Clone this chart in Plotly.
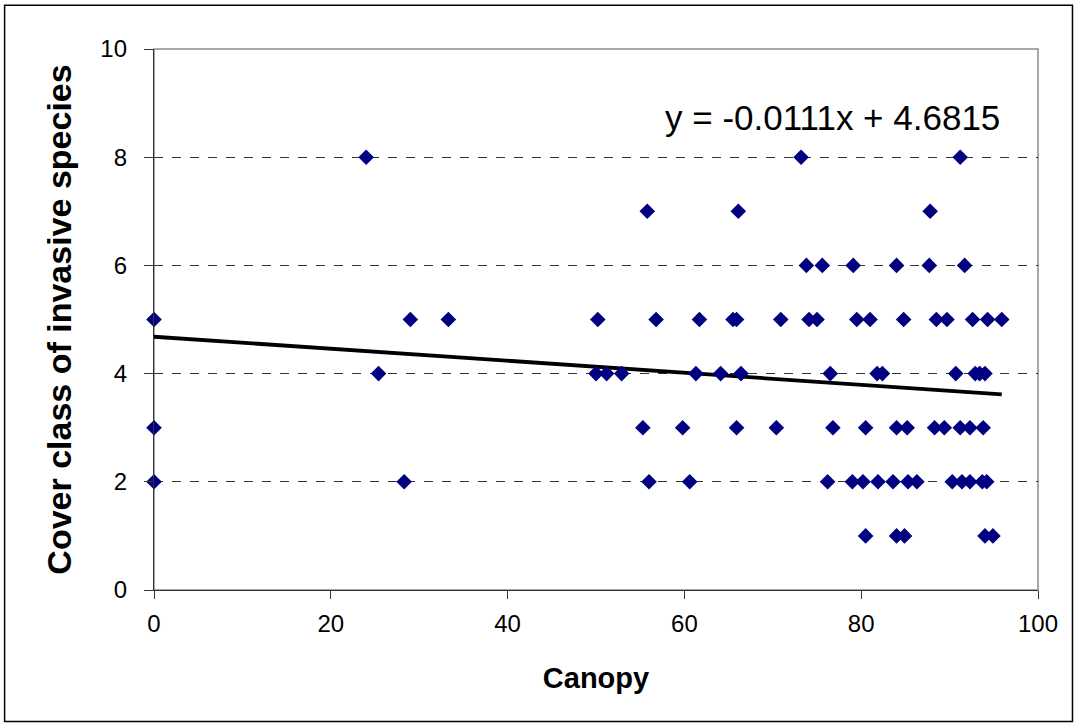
import plotly.graph_objects as go

# Data
canopy_y8 = [24.0, 73.2, 91.2]
canopy_y7 = [55.8, 66.1, 87.8]
canopy_y6 = [73.8, 75.6, 79.1, 84.0, 87.7, 91.7]
canopy_y5 = [0.0, 29.0, 33.3, 50.2, 56.8, 61.7, 65.5, 65.9, 70.9, 74.1, 75.0,
             79.5, 81.0, 84.8, 88.5, 89.7, 92.6, 94.3, 95.9]
canopy_y4 = [25.4, 50.0, 51.2, 52.9, 61.3, 64.1, 66.4, 76.5, 81.8, 82.4, 90.7,
             92.9, 93.4, 94.0]
canopy_y3 = [0.0, 55.3, 59.8, 65.9, 70.4, 76.8, 80.5, 84.0, 85.2, 88.3, 89.4,
             91.2, 92.3, 93.8]
canopy_y2 = [0.0, 28.3, 56.0, 60.6, 76.2, 79.0, 80.2, 81.9, 83.6, 85.3, 86.3,
             90.3, 91.4, 92.3, 93.7, 94.2]
canopy_y1 = [80.5, 84.0, 84.9, 94.0, 94.9]

groups = [(8, canopy_y8), (7, canopy_y7), (6, canopy_y6), (5, canopy_y5),
          (4, canopy_y4), (3, canopy_y3), (2, canopy_y2), (1, canopy_y1)]
canopy = []
cover = []
for cls, xs in groups:
    canopy += xs
    cover += [cls] * len(xs)

slope = -0.0111
intercept = 4.6815
equation_text = "y = -0.0111x + 4.6815"

x_ticks = [0, 20, 40, 60, 80, 100]
y_ticks = [0, 2, 4, 6, 8, 10]

trend_x = [0, max(canopy)]
trend_y = [intercept + slope * v for v in trend_x]

FONT = "Liberation Sans, Arial, sans-serif"

fig = go.Figure()
fig.add_trace(go.Scatter(
    x=trend_x, y=trend_y, mode="lines",
    line=dict(color="black", width=3.8), showlegend=False, hoverinfo="skip"))
fig.add_trace(go.Scatter(
    x=canopy, y=cover, mode="markers",
    marker=dict(symbol="diamond", size=12, color="#000080",
                line=dict(width=0)),
    cliponaxis=False, showlegend=False))

fig.update_layout(
    width=1077, height=726,
    margin=dict(l=154, r=39, t=49, b=136),
    paper_bgcolor="white", plot_bgcolor="white",
    font=dict(family=FONT, color="black"),
    xaxis=dict(
        range=[0, 100], tickvals=x_ticks, ticktext=[str(v) for v in x_ticks],
        showgrid=False, zeroline=False,
        showline=True, linecolor="#333333", linewidth=1.3,
        ticks="outside", ticklen=8, tickcolor="#333333",
        ticklabelstandoff=4,
        tickfont=dict(size=24, family=FONT),
        title=dict(text="<b>Canopy</b>", font=dict(size=29, family=FONT),
                   standoff=31),
    ),
    yaxis=dict(
        range=[0, 10], tickvals=y_ticks, ticktext=[str(v) for v in y_ticks],
        showgrid=True, gridcolor="#333333", gridwidth=1, griddash="dash",
        zeroline=False,
        showline=True, linecolor="#333333", linewidth=1.3,
        ticks="outside", ticklen=9, tickcolor="#333333",
        ticklabelstandoff=12,
        tickfont=dict(size=24, family=FONT),
        title=dict(text="<b>Cover class of invasive species</b>",
                   font=dict(size=34, family=FONT), standoff=18),
    ),
    shapes=[
        # plot area border (gray)
        dict(type="rect", xref="paper", yref="paper", x0=0, y0=0, x1=1, y1=1,
             line=dict(color="#8c8c8c", width=1.5), layer="below"),
        # outer chart border
        dict(type="rect", xref="paper", yref="paper",
             x0=-0.169, y0=-0.243, x1=1.039, y1=1.081,
             line=dict(color="black", width=1.5)),
    ],
    annotations=[
        dict(text=equation_text, xref="x", yref="y", x=57.6, y=8.74,
             xanchor="left", yanchor="middle", showarrow=False,
             font=dict(size=35, family=FONT, color="black")),
    ],
)

fig.write_html("out.html")
